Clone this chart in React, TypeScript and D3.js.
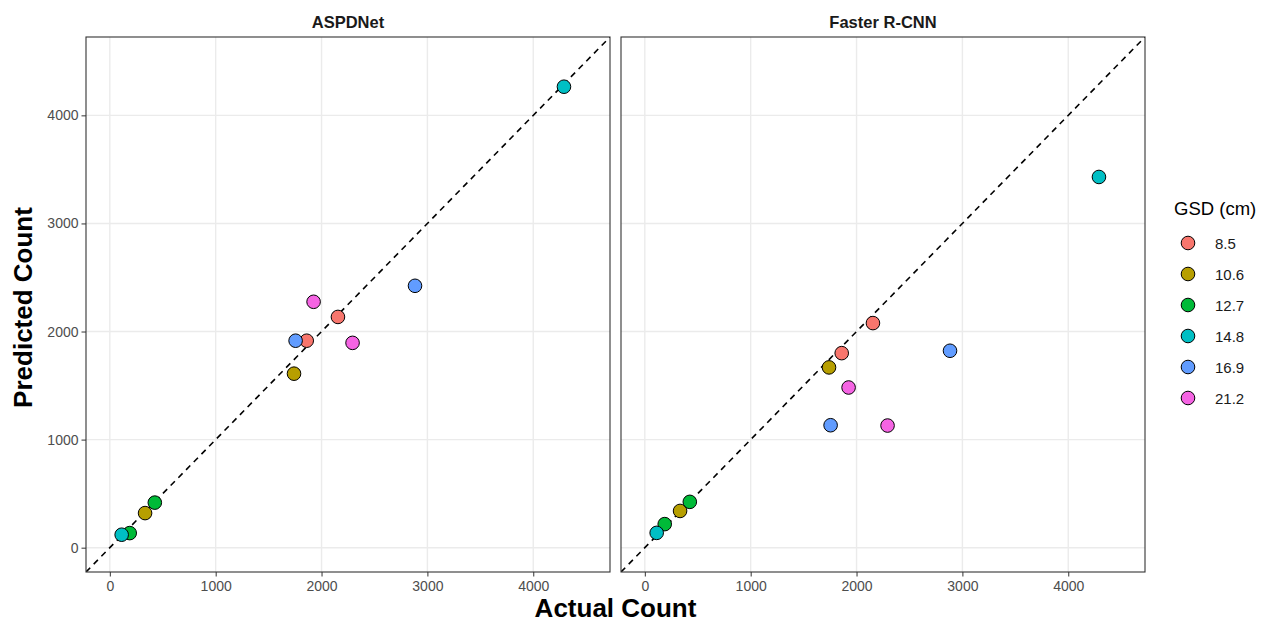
import React, { useEffect, useRef } from "react";
import * as d3 from "d3";

// GSD groups (cm) and the ggplot hue colours used for them
const gsdLevels = ["8.5", "10.6", "12.7", "14.8", "16.9", "21.2"];
const gsdColors = ["#F8766D", "#B79F00", "#00BA38", "#00BFC4", "#619CFF", "#F564E3"];

// two images per GSD level, same actual counts in both panels
const actualCount = [
  [1860, 2155],
  [333, 1740],
  [188, 425],
  [112, 4290],
  [1755, 2883],
  [1925, 2293],
];
const aspdnetPred = [
  [1915, 2135],
  [320, 1610],
  [135, 417],
  [120, 4265],
  [1915, 2423],
  [2275, 1895],
];
const fasterPred = [
  [1800, 2078],
  [340, 1668],
  [218, 424],
  [137, 3430],
  [1133, 1822],
  [1482, 1130],
];

const panelTitles = ["ASPDNet", "Faster R-CNN"];
const axisTicks = [0, 1000, 2000, 3000, 4000];
const axisLimits = [0, 4500];

type Pt = { actual: number; pred: number; gsd: number };

const buildPoints = (pred: number[][]): Pt[] => {
  const out: Pt[] = [];
  actualCount.forEach((row, g) => {
    row.forEach((a, i) => out.push({ actual: a, pred: pred[g][i], gsd: g }));
  });
  return out;
};

const App = () => {
  const chartRef = useRef<SVGSVGElement>(null);

  useEffect(() => {
    const width = 1261;
    const height = 622;
    const panelTop = 37;
    const panelBottom = 572;
    const panelLefts = [86, 621];
    const panelWidth = 524;
    const font = "'Liberation Sans', Arial, sans-serif";

    const svg = d3.select(chartRef.current).attr("width", width).attr("height", height);
    svg.selectAll("*").remove();

    // ggplot default 5% expansion
    const span = axisLimits[1] - axisLimits[0];
    const dom = [axisLimits[0] - span * 0.05, axisLimits[1] + span * 0.05];

    const y = d3.scaleLinear().domain(dom).range([panelBottom, panelTop]);

    const datasets = [buildPoints(aspdnetPred), buildPoints(fasterPred)];

    datasets.forEach((data, p) => {
      const left = panelLefts[p];
      const x = d3.scaleLinear().domain(dom).range([left, left + panelWidth]);
      const g = svg.append("g");

      const clipId = `clip-${p}`;
      g.append("clipPath")
        .attr("id", clipId)
        .append("rect")
        .attr("x", left)
        .attr("y", panelTop)
        .attr("width", panelWidth)
        .attr("height", panelBottom - panelTop);

      // grid
      g.selectAll("line.vgrid")
        .data(axisTicks)
        .enter()
        .append("line")
        .attr("x1", (d) => x(d))
        .attr("x2", (d) => x(d))
        .attr("y1", panelTop)
        .attr("y2", panelBottom)
        .attr("stroke", "#ebebeb")
        .attr("stroke-width", 1.4);
      g.selectAll("line.hgrid")
        .data(axisTicks)
        .enter()
        .append("line")
        .attr("x1", left)
        .attr("x2", left + panelWidth)
        .attr("y1", (d) => y(d))
        .attr("y2", (d) => y(d))
        .attr("stroke", "#ebebeb")
        .attr("stroke-width", 1.4);

      // identity line
      g.append("line")
        .attr("clip-path", `url(#${clipId})`)
        .attr("x1", x(dom[0]))
        .attr("y1", y(dom[0]))
        .attr("x2", x(dom[1]))
        .attr("y2", y(dom[1]))
        .attr("stroke", "#000")
        .attr("stroke-width", 1.6)
        .attr("stroke-dasharray", "6,5");

      // points
      g.selectAll("circle.pt")
        .data(data)
        .enter()
        .append("circle")
        .attr("cx", (d) => x(d.actual))
        .attr("cy", (d) => y(d.pred))
        .attr("r", 6.8)
        .attr("fill", (d) => gsdColors[d.gsd])
        .attr("stroke", "#000")
        .attr("stroke-width", 1);

      // border
      g.append("rect")
        .attr("x", left)
        .attr("y", panelTop)
        .attr("width", panelWidth)
        .attr("height", panelBottom - panelTop)
        .attr("fill", "none")
        .attr("stroke", "#333")
        .attr("stroke-width", 1.1);

      // x axis
      const xAxis = g
        .append("g")
        .attr("transform", `translate(0, ${panelBottom})`)
        .call(d3.axisBottom(x).tickValues(axisTicks).tickSize(4.5).tickPadding(5).tickFormat(d3.format("d")));
      xAxis.select(".domain").remove();
      xAxis.selectAll(".tick line").attr("stroke", "#333");
      xAxis
        .selectAll("text")
        .attr("fill", "#4d4d4d")
        .style("font-family", font)
        .style("font-size", "14px");

      // y axis on left panel only
      if (p === 0) {
        const yAxis = g
          .append("g")
          .attr("transform", `translate(${left}, 0)`)
          .call(d3.axisLeft(y).tickValues(axisTicks).tickSize(4.5).tickPadding(3).tickFormat(d3.format("d")));
        yAxis.select(".domain").remove();
        yAxis.selectAll(".tick line").attr("stroke", "#333");
        yAxis
          .selectAll("text")
          .attr("fill", "#4d4d4d")
          .style("font-family", font)
          .style("font-size", "14px");
      }

      // strip title
      g.append("text")
        .attr("x", left + panelWidth / 2)
        .attr("y", 28)
        .attr("text-anchor", "middle")
        .style("font-family", font)
        .style("font-weight", "bold")
        .style("font-size", "16.5px")
        .attr("fill", "#1a1a1a")
        .text(panelTitles[p]);
    });

    // axis titles
    svg
      .append("text")
      .attr("x", (panelLefts[0] + panelLefts[1] + panelWidth) / 2)
      .attr("y", 617)
      .attr("text-anchor", "middle")
      .style("font-family", font)
      .style("font-weight", "bold")
      .style("font-size", "26px")
      .text("Actual Count");

    svg
      .append("text")
      .attr("transform", `translate(32, ${(panelTop + panelBottom) / 2 + 3}) rotate(-90)`)
      .attr("text-anchor", "middle")
      .style("font-family", font)
      .style("font-weight", "bold")
      .style("font-size", "26px")
      .text("Predicted Count");

    // legend
    const legend = svg.append("g").attr("transform", "translate(1174, 0)");
    legend
      .append("text")
      .attr("x", 0)
      .attr("y", 215)
      .style("font-family", font)
      .style("font-size", "18.5px")
      .attr("fill", "#000")
      .text("GSD (cm)");

    const rows = legend
      .selectAll("g.item")
      .data(gsdLevels)
      .enter()
      .append("g")
      .attr("transform", (d, i) => `translate(0, ${243 + i * 31})`);
    rows
      .append("circle")
      .attr("cx", 14)
      .attr("cy", 0)
      .attr("r", 6.8)
      .attr("fill", (d, i) => gsdColors[i])
      .attr("stroke", "#000")
      .attr("stroke-width", 1);
    rows
      .append("text")
      .attr("x", 41)
      .attr("y", 5.5)
      .style("font-family", font)
      .style("font-size", "15px")
      .attr("fill", "#1a1a1a")
      .text((d) => d);
  }, []);

  return (
    <div style={{ position: "absolute", left: 0, top: 0, background: "#fff" }}>
      <svg ref={chartRef}></svg>
    </div>
  );
};

export default App;
